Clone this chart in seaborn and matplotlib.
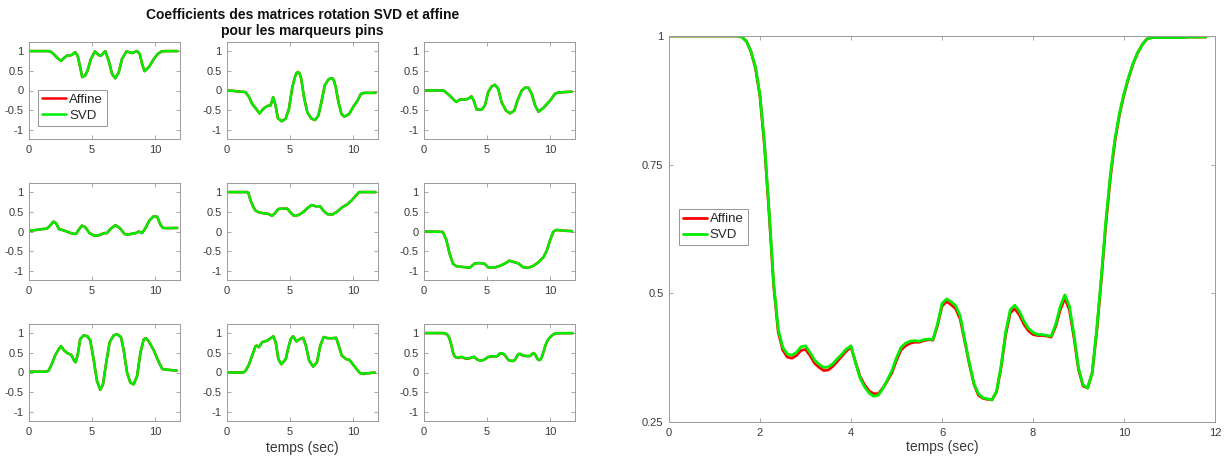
import numpy as np
import matplotlib
matplotlib.use("Agg")
import matplotlib.pyplot as plt
import seaborn as sns

# ---------------- data ----------------
# Row 1
t11 = [0, 1.0, 1.5, 1.7, 1.94, 2.2, 2.55, 2.8, 3.0, 3.4, 3.67, 3.86, 4.07, 4.23, 4.45, 4.65, 4.92, 5.24, 5.53, 5.72,
       6.06, 6.33, 6.6, 6.86, 7.13, 7.39, 7.74, 8.19, 8.59, 8.8, 8.99, 9.18, 9.52, 9.92, 10.24, 10.53, 10.8, 11.8]
c11 = [1.0, 1.0, 1.0, 0.99, 0.93, 0.84, 0.75, 0.83, 0.88, 0.9, 0.97, 0.885, 0.59, 0.34, 0.38, 0.5, 0.8, 0.99, 0.9, 0.88,
       1.0, 0.76, 0.42, 0.31, 0.46, 0.8, 0.99, 0.95, 1.0, 0.93, 0.67, 0.49, 0.59, 0.8, 0.93, 0.99, 1.0, 1.0]

t12 = [0, 0.5, 1.06, 1.46, 1.73, 2.0, 2.26, 2.58, 2.93, 3.24, 3.46, 3.67, 3.86, 4.04, 4.34, 4.65, 4.92, 5.19, 5.4,
       5.52, 5.64, 5.76, 5.9, 6.12, 6.38, 6.7, 6.99, 7.26, 7.5, 7.77, 8.06, 8.25, 8.38, 8.5, 8.64, 8.86, 9.1, 9.31,
       9.7, 10.1, 10.37, 10.64, 10.9, 11.8]
c12 = [0.0, -0.01, -0.03, -0.04, -0.15, -0.34, -0.44, -0.58, -0.45, -0.39, -0.38, -0.17, -0.38, -0.7, -0.78, -0.72,
       -0.47, 0.085, 0.34, 0.44, 0.47, 0.44, 0.30, -0.17, -0.55, -0.71, -0.75, -0.64, -0.3, 0.13, 0.28, 0.31, 0.31,
       0.25, 0.085, -0.3, -0.6, -0.66, -0.6, -0.38, -0.26, -0.085, -0.06, -0.06]

t13 = [0, 1.5, 1.65, 2.05, 2.45, 2.58, 2.85, 3.24, 3.51, 3.78, 3.96, 4.18, 4.57, 4.84, 5.1, 5.37, 5.64, 5.9, 6.17,
       6.52, 6.84, 7.18, 7.42, 7.77, 8.03, 8.3, 8.56, 8.83, 9.1, 9.49, 10.02, 10.4, 10.67, 11.73]
c13 = [0.0, 0.0, -0.02, -0.13, -0.26, -0.29, -0.23, -0.23, -0.21, -0.15, -0.26, -0.48, -0.49, -0.38, -0.04, 0.1,
       0.145, 0.04, -0.3, -0.51, -0.58, -0.51, -0.26, 0.0, 0.07, 0.07, -0.085, -0.38, -0.54, -0.44, -0.26, -0.085,
       -0.05, -0.03]

# Row 2
t21 = [0, 0.61, 1.01, 1.41, 1.68, 1.94, 2.15, 2.39, 2.74, 3.14, 3.54, 3.75, 3.94, 4.2, 4.47, 4.81, 5.21, 5.61, 5.98,
       6.2, 6.46, 6.86, 7.21, 7.58, 7.79, 8.32, 8.59, 8.72, 8.99, 9.26, 9.57, 9.92, 10.19, 10.45, 10.64, 10.98, 11.78]
c21 = [0.02, 0.04, 0.06, 0.07, 0.15, 0.25, 0.21, 0.06, 0.03, -0.02, -0.06, -0.06, 0.04, 0.15, 0.11, -0.04, -0.11,
       -0.09, -0.04, -0.04, 0.06, 0.16, 0.09, -0.06, -0.08, -0.05, -0.03, 0.0, -0.04, 0.09, 0.28, 0.39, 0.37, 0.17,
       0.09, 0.085, 0.09]

t22 = [0, 1.6, 1.7, 1.86, 2.07, 2.26, 2.53, 2.93, 3.24, 3.59, 3.86, 4.07, 4.39, 4.79, 5.05, 5.32, 5.72, 6.12, 6.38,
       6.73, 7.05, 7.39, 7.66, 7.98, 8.38, 8.78, 9.18, 9.57, 9.97, 10.24, 10.5, 11.8]
c22 = [1.0, 1.0, 0.98, 0.8, 0.64, 0.53, 0.49, 0.46, 0.45, 0.40, 0.48, 0.57, 0.58, 0.58, 0.48, 0.40, 0.42, 0.51, 0.59,
       0.67, 0.64, 0.64, 0.53, 0.44, 0.43, 0.51, 0.62, 0.69, 0.81, 0.91, 1.0, 1.0]

t23 = [0, 1.5, 1.78, 2.04, 2.31, 2.58, 3.1, 3.64, 4.03, 4.43, 4.83, 5.1, 5.64, 6.04, 6.44, 6.78, 7.1, 7.5, 7.9, 8.3,
       8.7, 9.1, 9.5, 9.76, 10.02, 10.29, 10.56, 11.1, 11.76]
c23 = [0.0, -0.01, -0.22, -0.57, -0.82, -0.88, -0.9, -0.92, -0.81, -0.8, -0.82, -0.91, -0.91, -0.87, -0.81, -0.74,
       -0.77, -0.81, -0.91, -0.92, -0.87, -0.78, -0.65, -0.48, -0.22, 0.0, 0.04, 0.02, 0.01]

# Row 3
t31 = [0, 1.3, 1.54, 1.81, 2.07, 2.34, 2.55, 2.79, 3.06, 3.35, 3.59, 3.7, 3.86, 4.07, 4.34, 4.65, 4.87, 5.13, 5.4,
       5.66, 5.88, 6.14, 6.41, 6.73, 6.99, 7.31, 7.53, 7.79, 8.06, 8.32, 8.59, 8.86, 9.12, 9.28, 9.52, 9.92, 10.32,
       10.59, 10.98, 11.73]
c31 = [0.02, 0.02, 0.04, 0.21, 0.43, 0.58, 0.67, 0.56, 0.49, 0.45, 0.30, 0.26, 0.43, 0.85, 0.94, 0.92, 0.81, 0.34,
       -0.21, -0.44, -0.3, 0.26, 0.77, 0.94, 0.97, 0.9, 0.56, 0.0, -0.26, -0.3, -0.09, 0.51, 0.84, 0.87, 0.79, 0.56,
       0.26, 0.09, 0.07, 0.05]

t32 = [0, 1.3, 1.47, 1.73, 2.0, 2.27, 2.4, 2.53, 2.8, 3.2, 3.47, 3.68, 3.87, 4.08, 4.32, 4.67, 4.85, 5.07, 5.25,
       5.52, 5.81, 6.05, 6.27, 6.53, 6.85, 7.15, 7.41, 7.68, 8.0, 8.4, 8.67, 8.88, 9.12, 9.47, 9.73, 10.0, 10.27,
       10.53, 10.67, 11.2, 11.73]
c32 = [0.0, 0.0, 0.04, 0.19, 0.43, 0.67, 0.68, 0.64, 0.77, 0.81, 0.87, 0.92, 0.77, 0.34, 0.21, 0.34, 0.6, 0.85,
       0.92, 0.79, 0.85, 0.88, 0.68, 0.3, 0.15, 0.26, 0.68, 0.9, 0.87, 0.87, 0.88, 0.68, 0.43, 0.34, 0.32, 0.21, 0.1,
       0.0, -0.03, -0.02, 0.0]

# Coefficient (3,3): sampled every 0.1 s, 0 .. 11.8 s
t33 = np.round(np.arange(0, 11.85, 0.1), 1)
c33_svd = [1.0, 1.0, 1.0, 1.0, 1.0, 1.0, 1.0, 1.0, 1.0, 1.0,
           1.0, 1.0, 1.0, 1.0, 1.0, 1.0, 0.998, 0.99, 0.97, 0.94,
           0.885, 0.79, 0.66, 0.52, 0.43, 0.395, 0.382, 0.38, 0.385, 0.396,
           0.398, 0.385, 0.37, 0.362, 0.356, 0.357, 0.363, 0.373, 0.382, 0.392,
           0.398, 0.365, 0.335, 0.318, 0.306, 0.30, 0.302, 0.315, 0.332, 0.35,
           0.375, 0.395, 0.403, 0.407, 0.408, 0.407, 0.41, 0.411, 0.41, 0.44,
           0.48, 0.489, 0.484, 0.476, 0.456, 0.41, 0.365, 0.325, 0.305, 0.297,
           0.295, 0.293, 0.31, 0.36, 0.425, 0.468, 0.477, 0.465, 0.446, 0.432,
           0.424, 0.42, 0.42, 0.418, 0.417, 0.44, 0.475, 0.497, 0.475, 0.42,
           0.355, 0.322, 0.316, 0.345, 0.43, 0.53, 0.64, 0.73, 0.80, 0.85,
           0.888, 0.92, 0.947, 0.968, 0.983, 0.994, 0.997, 0.997, 0.997, 0.997,
           0.997, 0.997, 0.997, 0.997, 0.998, 0.998, 0.998, 0.998, 0.998]
c33_affine = [1.0, 1.0, 1.0, 1.0, 1.0, 1.0, 1.0, 1.0, 1.0, 1.0,
              1.0, 1.0, 1.0, 1.0, 1.0, 1.0, 0.998, 0.99, 0.97, 0.938,
              0.882, 0.785, 0.655, 0.515, 0.425, 0.39, 0.376, 0.374, 0.379, 0.389,
              0.391, 0.379, 0.364, 0.356, 0.35, 0.351, 0.358, 0.368, 0.378, 0.388,
              0.396, 0.366, 0.338, 0.322, 0.31, 0.305, 0.305, 0.316, 0.33, 0.346,
              0.37, 0.39, 0.398, 0.403, 0.405, 0.405, 0.408, 0.41, 0.409, 0.437,
              0.475, 0.484, 0.478, 0.47, 0.45, 0.407, 0.363, 0.324, 0.302, 0.296,
              0.294, 0.293, 0.309, 0.357, 0.42, 0.462, 0.47, 0.458, 0.44, 0.427,
              0.42, 0.418, 0.418, 0.417, 0.415, 0.436, 0.468, 0.49, 0.468, 0.414,
              0.352, 0.32, 0.316, 0.345, 0.425, 0.525, 0.633, 0.724, 0.795, 0.847,
              0.886, 0.918, 0.946, 0.967, 0.983, 0.994, 0.997, 0.997, 0.997, 0.997,
              0.997, 0.997, 0.997, 0.997, 0.998, 0.998, 0.998, 0.998, 0.998]

small_times = [t11, t12, t13, t21, t22, t23, t31, t32, list(t33)]
small_svd = [c11, c12, c13, c21, c22, c23, c31, c32, c33_svd]
# Affine and SVD coincide visually on the small panels (red hidden under green)
small_affine = [c11, c12, c13, c21, c22, c23, c31, c32, c33_affine]

series_labels = ["Affine", "SVD"]
small_xticks = [0, 5, 10]
small_yticks = [-1, -0.5, 0, 0.5, 1]
small_yticklabels = ["-1", "-0.5", "0", "0.5", "1"]
big_xticks = [0, 2, 4, 6, 8, 10, 12]
big_yticks = [0.25, 0.5, 0.75, 1]
big_yticklabels = ["0.25", "0.5", "0.75", "1"]
title_text = "Coefficients des matrices rotation SVD et affine\npour les marqueurs pins"
xlabel_text = "temps (sec)"

# ---------------- style ----------------
sns.set_theme(style="white")
plt.rcParams["font.family"] = ["Liberation Sans", "DejaVu Sans"]

RED = "#ff0000"
GREEN = "#00ee00"
EDGE = "#9a9a9a"
TXT = "#3a3a3a"
TICK_FS = 8

W, H = 1229, 457
fig = plt.figure(figsize=(W / 100, H / 100), dpi=100)


def px_axes(left, top, width, height):
    return fig.add_axes([left / W, 1 - (top + height) / H, width / W, height / H])


def style_axes(ax, fs):
    for sp in ax.spines.values():
        sp.set_color(EDGE)
        sp.set_linewidth(0.7)
    ax.tick_params(direction="in", length=3, width=0.6, color=EDGE, labelcolor=TXT,
                   labelsize=fs, top=True, right=True, bottom=True, left=True,
                   labeltop=False, labelright=False, pad=4)


def add_legend(ax, anchor):
    leg = ax.legend(loc="upper left", bbox_to_anchor=anchor, fontsize=9.5,
                    frameon=True, fancybox=False, handlelength=1.8, handletextpad=0.25,
                    borderpad=0.3, labelspacing=0.3, borderaxespad=0)
    leg.get_frame().set_edgecolor("#7a7a7a")
    leg.get_frame().set_linewidth(0.7)
    return leg


lefts = [29, 227, 424]
tops = [42, 183, 324]
axes = []
for i in range(9):
    r, c = divmod(i, 3)
    ax = px_axes(lefts[c], tops[r], 151, 97)
    sns.lineplot(x=small_times[i], y=small_affine[i], color=RED, linewidth=1.8, ax=ax,
                 label=series_labels[0], estimator=None, sort=False)
    sns.lineplot(x=small_times[i], y=small_svd[i], color=GREEN, linewidth=1.8, ax=ax,
                 label=series_labels[1], estimator=None, sort=False)
    ax.set_xlim(0, 12)
    ax.set_ylim(-1.23, 1.23)
    ax.set_xticks(small_xticks)
    ax.set_xticklabels([str(v) for v in small_xticks])
    ax.set_yticks(small_yticks)
    ax.set_yticklabels(small_yticklabels)
    ax.set_xlabel("")
    ax.set_ylabel("")
    style_axes(ax, TICK_FS)
    leg = ax.get_legend()
    if leg is not None:
        leg.remove()
    axes.append(ax)

add_legend(axes[0], (0.06, 0.51))

axes[1].set_title(title_text, fontsize=10, fontweight="bold", color="#111111", pad=5,
                  linespacing=1.2)
axes[7].set_xlabel(xlabel_text, fontsize=10, color=TXT, labelpad=3)

# ---------------- big panel ----------------
axb = px_axes(669, 36, 546, 386)
sns.lineplot(x=t33, y=c33_affine, color=RED, linewidth=2.0, ax=axb, label=series_labels[0],
             estimator=None, sort=False)
sns.lineplot(x=t33, y=c33_svd, color=GREEN, linewidth=2.0, ax=axb, label=series_labels[1],
             estimator=None, sort=False)
axb.set_xlim(0, 12)
axb.set_ylim(0.25, 1.0)
axb.set_xticks(big_xticks)
axb.set_xticklabels([str(v) for v in big_xticks])
axb.set_yticks(big_yticks)
axb.set_yticklabels(big_yticklabels)
axb.set_ylabel("")
axb.set_xlabel(xlabel_text, fontsize=10, color=TXT, labelpad=2)
style_axes(axb, TICK_FS)
add_legend(axb, (0.018, 0.552))

fig.savefig("out.png", dpi=100, facecolor="white")
